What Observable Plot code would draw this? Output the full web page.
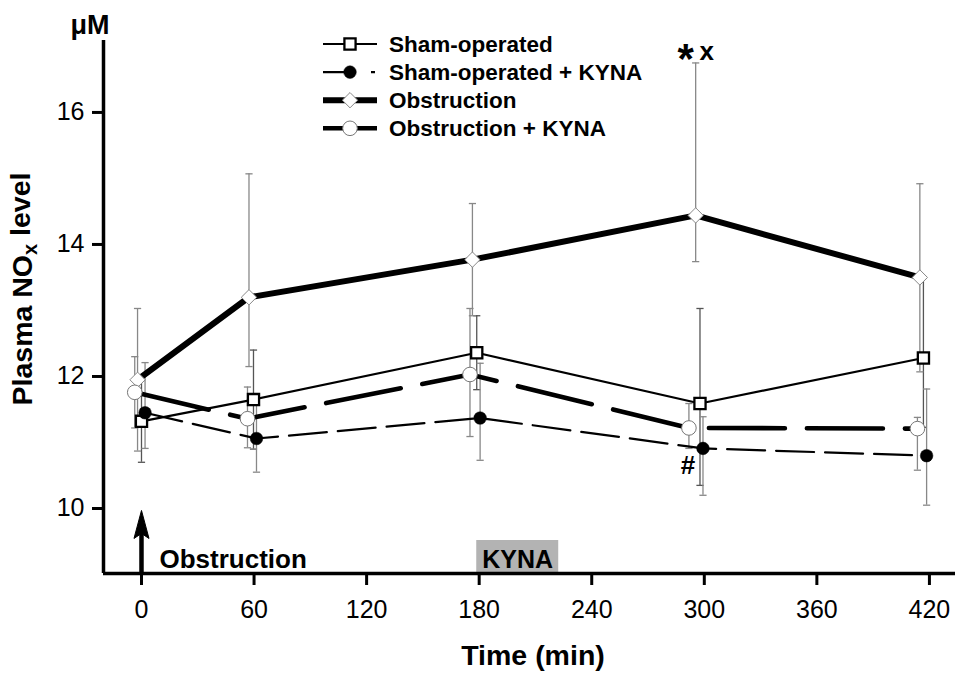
<!DOCTYPE html>
<html><head><meta charset="utf-8">
<script src="https://cdn.jsdelivr.net/npm/d3@7"></script>
<script src="https://cdn.jsdelivr.net/npm/@observablehq/plot@0.6"></script>
<style>
html,body{margin:0;padding:0;background:#fff;}
#chart svg{display:block;}
</style></head><body><div id="chart"></div>
<script>
// ---------- data ----------
const times = [0, 60, 180, 300, 420];
const seriesNames = ["Sham-operated", "Sham-operated + KYNA", "Obstruction", "Obstruction + KYNA"];

// plotted x positions (min), slightly staggered per series as in the figure
const shamX      = [0, 59.7, 178.7, 297.7, 416.8];
const shamMean   = [11.32, 11.65, 12.36, 11.59, 12.28];
const shamLo     = [10.70, 10.90, 11.80, 10.35, 11.23];
const shamHi     = [11.94, 12.40, 12.92, 13.03, 13.50];

const shamKynaX    = [1.9, 61.3, 180.5, 299.3, 418.5];
const shamKynaMean = [11.45, 11.06, 11.37, 10.91, 10.80];
const shamKynaLo   = [10.91, 10.55, 10.73, 10.20, 10.05];
const shamKynaHi   = [12.21, 11.57, 12.20, 11.39, 11.81];

const obsX    = [-2.1, 57.3, 176.4, 295.4, 414.9];
const obsMean = [11.95, 13.20, 13.77, 14.44, 13.50];
const obsLo   = [10.87, 12.15, 12.92, 13.74, 12.07];
const obsHi   = [13.03, 15.07, 14.62, 16.75, 14.92];

const obsKynaX    = [-3.6, 56.5, 175.1, 291.8, 413.6];
const obsKynaMean = [11.76, 11.36, 12.03, 11.22, 11.21];
const obsKynaLo   = [11.22, 10.92, 11.09, 10.91, 10.58];
const obsKynaHi   = [12.30, 11.84, 13.03, 11.59, 11.38];

const xTicks = [0, 60, 120, 180, 240, 300, 360, 420];
const yTicks = [10, 12, 14, 16];
const xDomain = [-20.25, 433.9];
const yDomain = [9.015, 17.09];

// annotations
const kynaBox = [{x1: 178.7, x2: 222.4, y2: 9.515, label: "KYNA"}];
const obstructionNote = [{x: 9.6, label: "Obstruction"}];
const arrowTip = [{x: 0, y: 9.97}];
const starNote = [{x: 295.4, y: 16.75}];   // obstruction @300 upper error
const hashNote = [{x: 299.3, y: 10.91}];   // sham+KYNA @300

// ---------- build tables ----------
const mk = (xs, m, lo, hi, name) => times.map((t, i) => ({series: name, time: t, x: xs[i], y: m[i], lo: lo[i], hi: hi[i]}));
const sham     = mk(shamX, shamMean, shamLo, shamHi, seriesNames[0]);
const shamKyna = mk(shamKynaX, shamKynaMean, shamKynaLo, shamKynaHi, seriesNames[1]);
const obs      = mk(obsX, obsMean, obsLo, obsHi, seriesNames[2]);
const obsKyna  = mk(obsKynaX, obsKynaMean, obsKynaLo, obsKynaHi, seriesNames[3]);

const styles = [
  {data: sham,     lw: 2.2, dash: null,    symbol: "square",   d3sym: d3.symbolSquare,   r: 6.3, fill: "white", stroke: "black", sw: 2.3, bar: "#555", legendDash: null},
  {data: shamKyna, lw: 2.2, dash: "38,11", symbol: "circle",   d3sym: d3.symbolCircle,   r: 6.3, fill: "black", stroke: "black", sw: 0.5, bar: "#888", legendDash: "27,21,4,10"},
  {data: obs,      lw: 6,   dash: null,    symbol: "diamond2", d3sym: d3.symbolDiamond2, r: 6.9, fill: "white", stroke: "#888", sw: 1, bar: "#888", legendDash: null},
  {data: obsKyna,  lw: 4.6, dash: "76,22", symbol: "circle",   d3sym: d3.symbolCircle,   r: 7.3, fill: "white", stroke: "#777", sw: 1, bar: "#888", legendDash: null}
];

const FONT = "'Liberation Sans', Arial, Helvetica, sans-serif";
const capSymbol = {draw(ctx) { ctx.moveTo(-3.6, 0); ctx.lineTo(3.6, 0); }};
const headSymbol = {draw(ctx) { ctx.moveTo(0, 0); ctx.lineTo(7.5, 28); ctx.lineTo(0, 23); ctx.lineTo(-7.5, 28); ctx.closePath(); }};

const W = 955, H = 673, mL = 103, mR = 0, mT = 40, mB = 100;
const pxPerUnitY = (H - mT - mB) / (yDomain[1] - yDomain[0]);

const marks = [];
// KYNA box
marks.push(Plot.rect(kynaBox, {x1: "x1", x2: "x2", y1: () => yDomain[0], y2: "y2", fill: "#b3b3b3"}));
// error bars
for (const s of styles) {
  marks.push(Plot.ruleX(s.data, {x: "x", y1: "lo", y2: "hi", stroke: s.bar, strokeWidth: 1.3}));
  marks.push(Plot.dot(s.data, {x: "x", y: "lo", symbol: capSymbol, fill: "none", stroke: s.bar, strokeWidth: 1.3}));
  marks.push(Plot.dot(s.data, {x: "x", y: "hi", symbol: capSymbol, fill: "none", stroke: s.bar, strokeWidth: 1.3}));
}
// lines
for (const s of styles) {
  marks.push(Plot.line(s.data, {x: "x", y: "y", stroke: "black", strokeWidth: s.lw, strokeDasharray: s.dash, strokeLinejoin: "miter"}));
}
// markers
for (const s of styles) {
  marks.push(Plot.dot(s.data, {x: "x", y: "y", symbol: s.symbol, r: s.r, fill: s.fill, stroke: s.stroke, strokeWidth: s.sw}));
}
// axes
marks.push(Plot.ruleX([xDomain[0]], {stroke: "black", strokeWidth: 3.5}));
marks.push(Plot.ruleY([yDomain[0]], {stroke: "black", strokeWidth: 3.5}));
marks.push(Plot.axisX({ticks: xTicks, tickSize: 12, tickPadding: 15, strokeWidth: 3, fontSize: 25, tickFormat: d => String(d), label: null}));
marks.push(Plot.axisY({ticks: yTicks, tickSize: 11, tickPadding: 8, strokeWidth: 3, fontSize: 25, tickFormat: d => String(d), label: null}));
// annotations
marks.push(Plot.link(arrowTip, {x1: "x", x2: "x", y1: () => yDomain[0], y2: d => d.y - 14 / pxPerUnitY, stroke: "black", strokeWidth: 4.5}));
marks.push(Plot.dot(arrowTip, {x: "x", y: "y", symbol: headSymbol, fill: "black", stroke: "black", strokeWidth: 1}));
marks.push(Plot.text(obstructionNote, {x: "x", y: () => yDomain[0], text: "label", dy: -6, textAnchor: "start", lineAnchor: "bottom", fontSize: 26, fontWeight: "bold", fill: "black"}));
marks.push(Plot.text(kynaBox, {x: d => (d.x1 + d.x2) / 2, y: () => yDomain[0], text: "label", dy: -6, lineAnchor: "bottom", fontSize: 25, fontWeight: "bold", fill: "black"}));
marks.push(Plot.text(starNote, {x: "x", y: "y", text: () => "*", dx: -10, dy: 10, lineAnchor: "bottom", fontSize: 42, fontWeight: "bold", fill: "black"}));
marks.push(Plot.text(starNote, {x: "x", y: "y", text: () => "x", dx: 11, dy: -3, lineAnchor: "bottom", fontSize: 26, fontWeight: "bold", fill: "black"}));
marks.push(Plot.text(hashNote, {x: "x", y: "y", text: () => "#", dx: -15, dy: 26, lineAnchor: "bottom", fontSize: 26, fontWeight: "bold", fill: "black"}));
marks.push(Plot.text(["μM"], {frameAnchor: "top-left", text: d => d, dx: 6, dy: -7, textAnchor: "end", lineAnchor: "bottom", fontSize: 27, fontWeight: "bold", fill: "black"}));

const chart = Plot.plot({
  width: W, height: H,
  marginLeft: mL, marginRight: mR, marginTop: mT, marginBottom: mB,
  x: {domain: xDomain, axis: null},
  y: {domain: yDomain, axis: null},
  style: {fontFamily: FONT, background: "white", color: "black", overflow: "visible"},
  marks
});
document.getElementById("chart").appendChild(chart);

// ---------- legend + axis titles ----------
const svg = d3.select(chart);
const lg = svg.append("g").attr("font-family", FONT).attr("text-anchor", "start");
styles.forEach((s, i) => {
  const cy = 44 + i * 28.1;
  lg.append("line").attr("x1", 323).attr("x2", 377).attr("y1", cy).attr("y2", cy)
    .attr("stroke", "black").attr("stroke-width", s.lw).attr("stroke-dasharray", s.legendDash);
  lg.append("path").attr("d", d3.symbol(s.d3sym, Math.PI * s.r * s.r)())
    .attr("transform", `translate(350,${cy})`).attr("fill", s.fill).attr("stroke", s.stroke).attr("stroke-width", s.sw);
  lg.append("text").attr("x", 389).attr("y", cy + 8).attr("font-size", 22.5).attr("font-weight", "bold")
    .attr("text-anchor", "start").attr("fill", "black").text(seriesNames[i]);
});
// x title
svg.append("text").attr("x", 533).attr("y", 665).attr("text-anchor", "middle")
  .attr("font-family", FONT).attr("font-size", 28.5).attr("font-weight", "bold").attr("fill", "black").text("Time (min)");
// y title with subscript
const yt = svg.append("text").attr("transform", "translate(32,289) rotate(-90)").attr("text-anchor", "middle")
  .attr("font-family", FONT).attr("font-size", 28.5).attr("font-weight", "bold").attr("fill", "black");
yt.append("tspan").text("Plasma NO");
yt.append("tspan").attr("dy", "0.25em").attr("font-size", "0.7em").text("x");
yt.append("tspan").attr("dy", "-0.25em").text(" level");
</script></body></html>
